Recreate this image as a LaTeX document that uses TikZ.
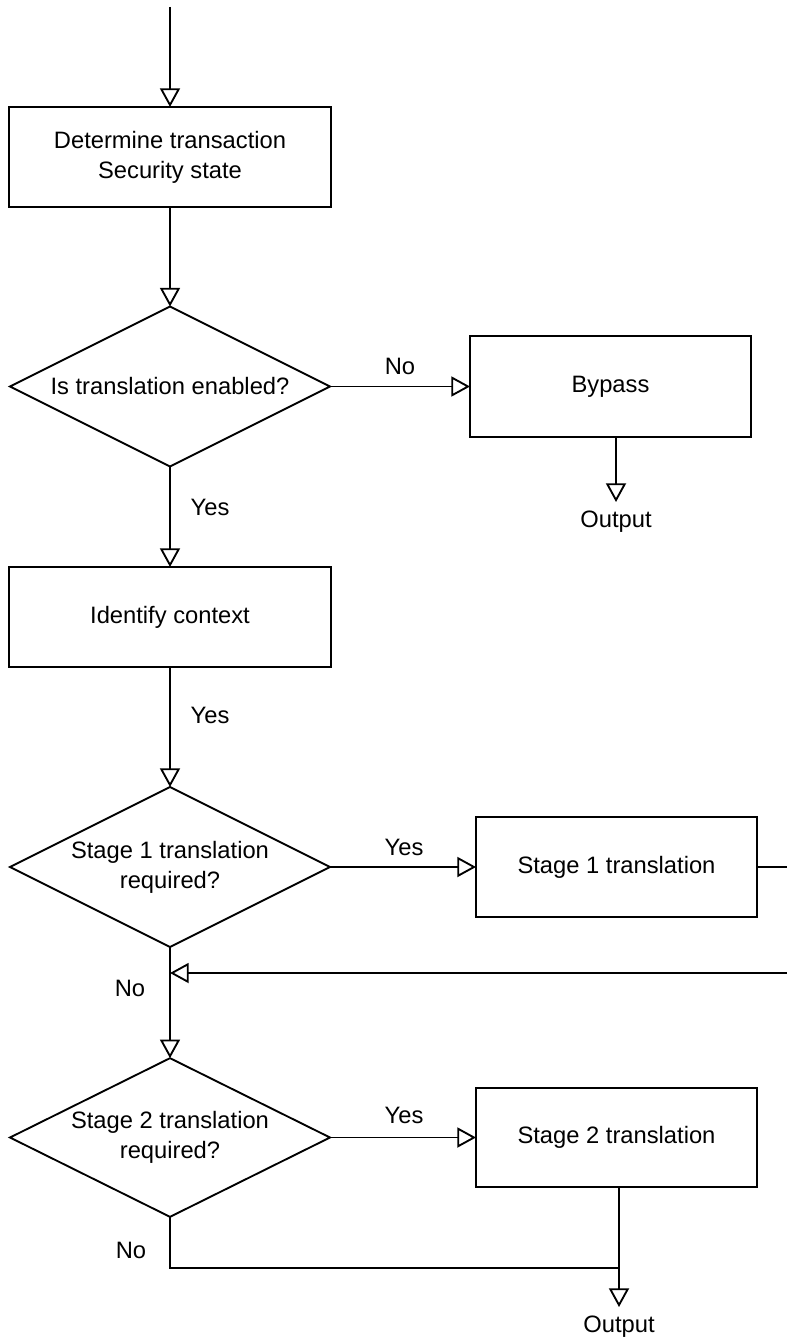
\documentclass[tikz,border=0pt]{standalone}
\usepackage{fontspec}
\setmainfont{Liberation Sans}
\usetikzlibrary{shapes.geometric,arrows.meta}
\begin{document}
\begin{tikzpicture}[x=0.75pt,y=-0.75pt,
  line width=1.4pt,
  font=\fontsize{17.8pt}{22.5pt}\selectfont,
  stepbox/.style={draw, rectangle, inner sep=0pt, outer sep=0pt, align=center},
  decision/.style={draw, diamond, inner sep=0pt, outer sep=0pt,
                   minimum width=240pt, minimum height=120pt},
  flow/.style={-{Triangle[open,length=14pt,width=15pt]}},
  lbl/.style={inner sep=0pt}
]
\clip (0,0) rectangle (787,1341);

% process steps
\node[stepbox, minimum width=241.5pt, minimum height=75pt] (secstate) at (170,157)
  {Determine transaction\\Security state};
\node[decision, label={[lbl]center:Is translation enabled?}] (enabled) at (170,386.5) {};
\node[stepbox, minimum width=210.75pt, minimum height=75.75pt] (bypass) at (610.5,386.5) {Bypass};
\node[stepbox, minimum width=241.5pt, minimum height=75pt] (ctx) at (170,617) {Identify context};
\node[decision, label={[lbl,align=center]center:Stage 1 translation\\required?}] (s1q) at (170,867) {};
\node[stepbox, minimum width=210.75pt, minimum height=75pt] (s1) at (616.5,867) {Stage 1 translation};
\node[decision, minimum height=119pt, label={[lbl,align=center]center:Stage 2 translation\\required?}] (s2q) at (170,1137.5) {};
\node[stepbox, minimum width=210.75pt, minimum height=74.25pt] (s2) at (616.5,1137.5) {Stage 2 translation};

% entry and exits
\coordinate (entry) at (170,7);
\coordinate (out1) at (616,502);
\coordinate (out2) at (619,1307);
\coordinate (join) at (619,1268);
\coordinate (loopout) at (810,867);
\coordinate (loopback) at (810,973);
\node[lbl] (out1txt) at (616,522) {Output};
\node[lbl] (out2txt) at (619,1327) {Output};

% connectors
\draw[flow] (entry) -- (secstate.north);
\draw[flow] (secstate.south) -- (enabled.north);
\draw[flow] (enabled.east) -- (bypass.west);
\draw[flow] (bypass.south -| out1) -- (out1);
\draw[flow] (enabled.south) -- (ctx.north);
\draw[flow] (ctx.south) -- (s1q.north);
\draw[flow] (s1q.east) -- (s1.west);
\draw[flow] (s1.east) -- (loopout) -- (loopback) -- (s1q.south |- loopback);
\draw[flow] (s1q.south) -- (s2q.north);
\draw[flow] (s2q.east) -- (s2.west);
\draw[flow] (s2.south -| out2) -- (out2);
\draw (s2q.south) |- (join);

% connector labels
\node[lbl] (noby) at (400,366) {No};
\node[lbl] (yesen) at (210,507) {Yes};
\node[lbl] (yesctx) at (210,715) {Yes};
\node[lbl] (yes1) at (404,847) {Yes};
\node[lbl] (no1) at (130,988) {No};
\node[lbl] (yes2) at (404,1115) {Yes};
\node[lbl] (no2) at (131,1250) {No};
\end{tikzpicture}
\end{document}
